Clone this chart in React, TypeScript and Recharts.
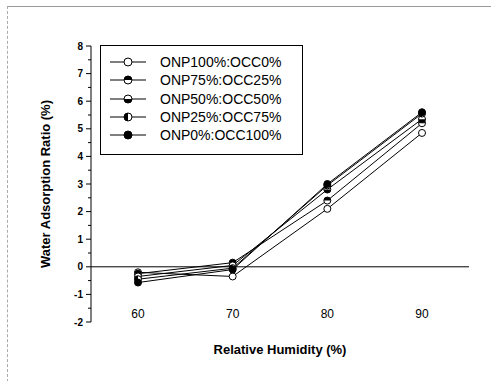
import React from "react";
import { LineChart, Line, XAxis, YAxis, ReferenceLine, Label } from "recharts";

// relative humidity categories
const humidity = ["60", "70", "80", "90"];

// water adsorption ratio (%) per mixture
const onp100 = [-0.2, -0.35, 2.1, 4.85];
const onp75 = [-0.25, 0.15, 2.4, 5.2];
const onp50 = [-0.35, 0.05, 2.8, 5.35];
const onp25 = [-0.45, -0.05, 2.95, 5.55];
const onp0 = [-0.57, -0.1, 3.0, 5.6];

const yTicks = [-2, -1.5, -1, -0.5, 0, 0.5, 1, 1.5, 2, 2.5, 3, 3.5, 4, 4.5, 5, 5.5, 6, 6.5, 7, 7.5, 8];

const series = [
  { key: "onp100", name: "ONP100%:OCC0%", fill: "open", values: onp100 },
  { key: "onp75", name: "ONP75%:OCC25%", fill: "top", values: onp75 },
  { key: "onp50", name: "ONP50%:OCC50%", fill: "bottom", values: onp50 },
  { key: "onp25", name: "ONP25%:OCC75%", fill: "left", values: onp25 },
  { key: "onp0", name: "ONP0%:OCC100%", fill: "full", values: onp0 },
];

const data = humidity.map((rh, i) => {
  const row: any = { rh };
  series.forEach((s) => (row[s.key] = s.values[i]));
  return row;
});

const FONT = "'Liberation Sans', Arial, sans-serif";

function Marker({ cx, cy, fill, r = 3.5 }: any) {
  if (cx == null || cy == null) return null;
  let half = null;
  if (fill === "top") half = `M${cx - r},${cy} A${r},${r} 0 0 1 ${cx + r},${cy} Z`;
  if (fill === "bottom") half = `M${cx - r},${cy} A${r},${r} 0 0 0 ${cx + r},${cy} Z`;
  if (fill === "left") half = `M${cx},${cy - r} A${r},${r} 0 0 0 ${cx},${cy + r} Z`;
  return (
    <g>
      <circle cx={cx} cy={cy} r={r} fill={fill === "full" ? "#000" : "#fff"} stroke="#000" strokeWidth={1} />
      {half && <path d={half} fill="#000" />}
    </g>
  );
}

const YTick = ({ x, y, payload }: any) => {
  const ax = x + 8;
  const major = Number.isInteger(payload.value);
  return (
    <g>
      <line x1={ax - (major ? 5 : 3)} x2={ax} y1={y} y2={y} stroke="#000" />
      {major && (
        <text x={ax - 8} y={y + 3.5} textAnchor="end" fontSize={10} fontWeight="bold" fontFamily={FONT} fill="#000">
          {payload.value}
        </text>
      )}
    </g>
  );
};

const XTick = ({ x, y, payload }: any) => (
  <text x={x} y={y - 12} textAnchor="middle" fontSize={12} fontFamily={FONT} fill="#000">
    {payload.value}
  </text>
);

const LegendBox = () => (
  <div
    style={{
      position: "absolute",
      left: 100,
      top: 45,
      width: 201,
      height: 101,
      border: "1px solid #000",
      background: "#fff",
      paddingTop: 7,
      boxSizing: "content-box",
    }}
  >
    {series.map((s) => (
      <div key={s.key} style={{ display: "flex", alignItems: "center", height: 18.3 }}>
        <svg width={50} height={12} style={{ marginLeft: 9 }}>
          <line x1={0} x2={36} y1={6} y2={6} stroke="#000" />
          <Marker cx={18} cy={6} fill={s.fill} r={4} />
        </svg>
        <span style={{ fontFamily: FONT, fontSize: 14, color: "#000", lineHeight: "14px" }}>{s.name}</span>
      </div>
    ))}
  </div>
);

export default function App() {
  return (
    <div style={{ position: "absolute", left: 0, top: 0, width: 491, height: 381, background: "#fff" }}>
      <div
        style={{
          position: "absolute",
          left: 7,
          top: 6,
          width: 484,
          height: 375,
          borderTop: "1px solid #999",
          borderLeft: "1px dashed #aaa",
        }}
      />
      <LineChart width={491} height={381} data={data} margin={{ top: 46, right: 22, bottom: 29, left: 0 }}>
        <XAxis
          dataKey="rh"
          type="category"
          padding={{ left: 47, right: 47 }}
          axisLine={false}
          tickLine={false}
          tick={<XTick />}
          height={30}
        >
          <Label
            value="Relative Humidity (%)"
            position="insideBottom"
            offset={-29}
            dy={-27}
            style={{ fontFamily: FONT, fontSize: 13, fontWeight: "bold", fill: "#000" }}
          />
        </XAxis>
        <YAxis
          domain={[-2, 8]}
          ticks={yTicks}
          interval={0}
          width={91}
          tickLine={false}
          tick={<YTick />}
          stroke="#000"
        >
          <Label
            value="Water Adsorption Ratio (%)"
            angle={-90}
            position="center"
            style={{ fontFamily: FONT, fontSize: 13, fontWeight: "bold", fill: "#000", textAnchor: "middle" }}
          />
        </YAxis>
        <ReferenceLine y={0} stroke="#000" />
        {series.map((s) => (
          <Line
            key={s.key}
            dataKey={s.key}
            name={s.name}
            stroke="#000"
            strokeWidth={1}
            isAnimationActive={false}
            dot={(p: any) => <Marker key={`${s.key}-${p.index}`} cx={p.cx} cy={p.cy} fill={s.fill} />}
          />
        ))}
      </LineChart>
      <LegendBox />
    </div>
  );
}
